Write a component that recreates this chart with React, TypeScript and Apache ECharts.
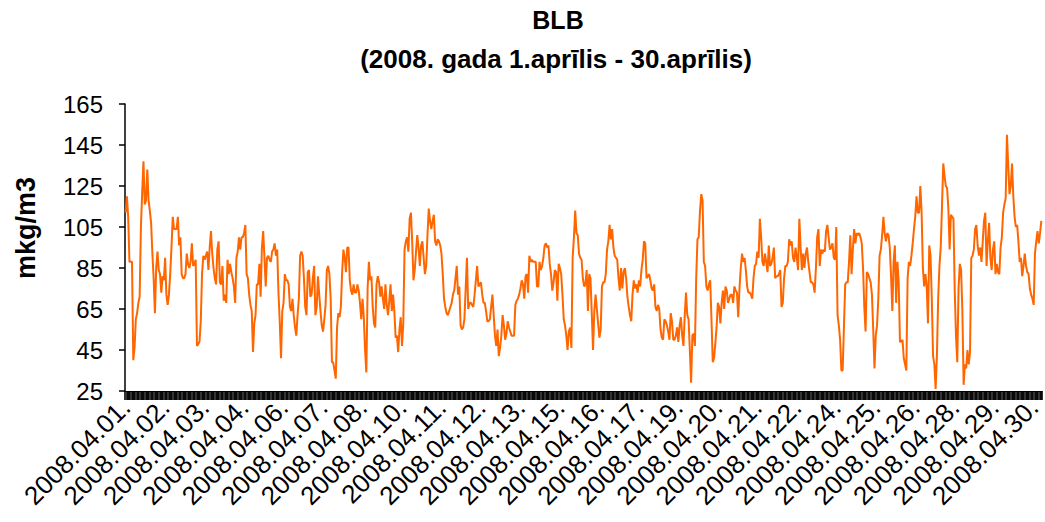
import React, { useEffect, useRef } from "react";
import * as echarts from "echarts";

// Hourly values, 2008-04-01 00:00 .. 2008-04-30 23:00 (720 points) in segments
const seg1 = [112,120,110,88,88,88,40,46,60,63,68,71,105,122,137,116,118,133,118,113,107,92,80,63,85,93,84,82,73,81,79,90,72,67,72,82,95,110,104,104,104,110,96,100,82,80,80,82,92,87,85,88,97,86,87,89,47,48,49,59,82,91,89];
const seg2 = [91,93,84,95,103,92,85,80,77,94,98,78,77,86,69,72,68,89,82,87,83,80,76,68,90,93,100,94,100,100,102,106,82,80,72,67,64,44,58,62,77,77,87,71,95,103,90,76,90,91,89,88,93,94,97,91,94,73,59,41,64,68,82,79,79,77,66,64,70,62];
const seg3 = [56,52,62,70,91,93,91,80,66,62,83,84,71,72,80,86,62,66,81,72,64,57,54,60,67,84,86,82,70,39,39,35,31,56,63,61,66,83,94,90,83,95,95,79,74,72,77,73,73,77,74,68,60,70,61,45,34,75,88,79,81,66,58,56,77,81,78,71,76,70,65];
const seg4 = [77,67,62,69,77,64,72,64,51,52,44,55,61,47,58,94,98,100,93,109,112,98,79,84,93,101,95,86,96,98,90,82,86,101,114,108,104,108,111,98,96,99,98,96,92,82,70,66,63,62,64,66,68,72,74,80,86,72,76,57,55,56,60,75,90,65,68,68,67,66];
const seg5 = [72,79,86,76,77,78,72,68,68,64,59,59,60,66,72,62,52,47,55,42,46,52,62,57,50,53,59,56,54,52,52,52,67,69,70,72,75,79,77,70,81,82,73,91,88,89,88,88,88,76,76,88,84,86,90,96,97,95,96,87,82,74,78,84,83,69,87,85,82,72,60];
const seg6 = [57,52,45,54,56,46,90,100,113,102,101,92,90,89,80,76,77,84,64,82,80,63,45,64,72,65,58,51,55,76,78,78,82,94,98,106,99,104,95,91,90,89,80,74,85,75,83,85,80,71,66,62,59,72,79,75,77,73,79,76,84,89,98,97,80,81,82,79,75,74];
const seg7 = [77,66,64,67,65,55,51,50,60,59,57,54,50,63,59,50,50,52,56,49,57,61,52,47,62,73,62,60,45,29,52,53,47,80,99,100,113,121,118,88,86,76,74,77,79,60,39,41,48,56,68,66,58,68,74,65,76,74,68,70,72,72,68,76,74,73,61,75,85,92];
const seg8 = [88,90,84,76,73,73,72,70,80,86,87,93,90,109,100,88,86,92,88,83,96,86,87,90,95,80,81,81,82,84,66,68,80,86,86,88,99,96,98,90,88,95,90,84,109,95,84,92,85,92,95,88,83,78,78,77,73,85,100,104,86,94,92,94,93,103,106,100,94,95,97];
const seg9 = [90,89,105,62,57,50,35,35,56,77,78,78,88,101,82,94,104,97,102,101,102,100,97,85,66,54,83,82,80,78,72,55,36,52,57,70,91,94,101,110,102,98,102,101,95,81,64,88,96,68,88,78,49,49,50,41,38,35,80,88,86,91,97,104,110,120,112,112,125,112];
const seg10 = [85,76,82,76,58,96,91,70,42,38,26,42,70,86,95,115,136,130,125,124,114,94,111,110,109,74,52,39,75,87,84,64,28,38,36,45,38,44,90,91,94,104,106,96,91,95,88,98,108,112,86,98,107,90,84,94,98,82,87,83,82,95,100,112,116,119,150,135,121,125,136,120,110,105,106,98,88,90,81,86,92,86,83,82,75,72,70,67,92,98,103,97,102,108];

const values = [...seg1, ...seg2, ...seg3, ...seg4, ...seg5, ...seg6, ...seg7, ...seg8, ...seg9, ...seg10];

const days = Array.from({ length: 30 }, (_, d) => `2008.04.${String(d + 1).padStart(2, "0")}.`);
const categories = days.flatMap((d) => Array(24).fill(d));

const yTicks = { min: 25, max: 165, interval: 20 };
const titleText = "BLB";
const subtitleText = "(2008. gada 1.aprīlis - 30.aprīlis)";
const yName = "mkg/m3";

export default function App() {
  const ref = useRef<HTMLDivElement>(null);
  useEffect(() => {
    if (!ref.current) return;
    const chart = echarts.init(ref.current, null, { renderer: "svg" });
    const font = "'Liberation Sans', Arial, sans-serif";
    chart.setOption({
      animation: false,
      backgroundColor: "#ffffff",
      textStyle: { fontFamily: font },
      graphic: [
        {
          type: "text",
          x: 558,
          y: 7,
          style: { text: titleText, font: `bold 25px ${font}`, fill: "#000", textAlign: "center" },
        },
        {
          type: "text",
          x: 556,
          y: 46,
          style: { text: subtitleText, font: `bold 26px ${font}`, fill: "#000", textAlign: "center" },
        },
        {
          type: "text",
          x: 26,
          y: 228,
          rotation: Math.PI / 2,
          style: {
            text: yName,
            font: `bold 27px ${font}`,
            fill: "#000",
            textAlign: "center",
            textVerticalAlign: "middle",
          },
        },
      ],
      grid: { left: 125, right: 0, top: 104, bottom: 131, containLabel: false },
      xAxis: {
        type: "category",
        data: categories,
        boundaryGap: true,
        axisLine: { show: true, lineStyle: { color: "#000", width: 1 } },
        axisTick: { show: true, interval: 0, length: 9, lineStyle: { color: "#000", width: 1.6 } },
        axisLabel: {
          interval: 30,
          rotate: 45,
          margin: 12,
          color: "#000",
          fontSize: 26,
          fontFamily: font,
        },
        splitLine: { show: false },
      },
      yAxis: {
        type: "value",
        min: yTicks.min,
        max: yTicks.max,
        interval: yTicks.interval,
        axisLine: { show: true, lineStyle: { color: "#000", width: 1.5 } },
        axisTick: { show: true, length: 6, lineStyle: { color: "#000", width: 1.5 } },
        axisLabel: { color: "#000", fontSize: 24, margin: 22, fontFamily: font },
        splitLine: { show: false },
      },
      series: [
        {
          type: "line",
          data: values,
          showSymbol: false,
          symbol: "none",
          lineStyle: { color: "#FF6600", width: 2 },
          itemStyle: { color: "#FF6600" },
        },
      ],
    });
    return () => chart.dispose();
  }, []);
  return (
    <div
      ref={ref}
      style={{ position: "fixed", left: 0, top: 0, width: 1045, height: 522 }}
    />
  );
}
